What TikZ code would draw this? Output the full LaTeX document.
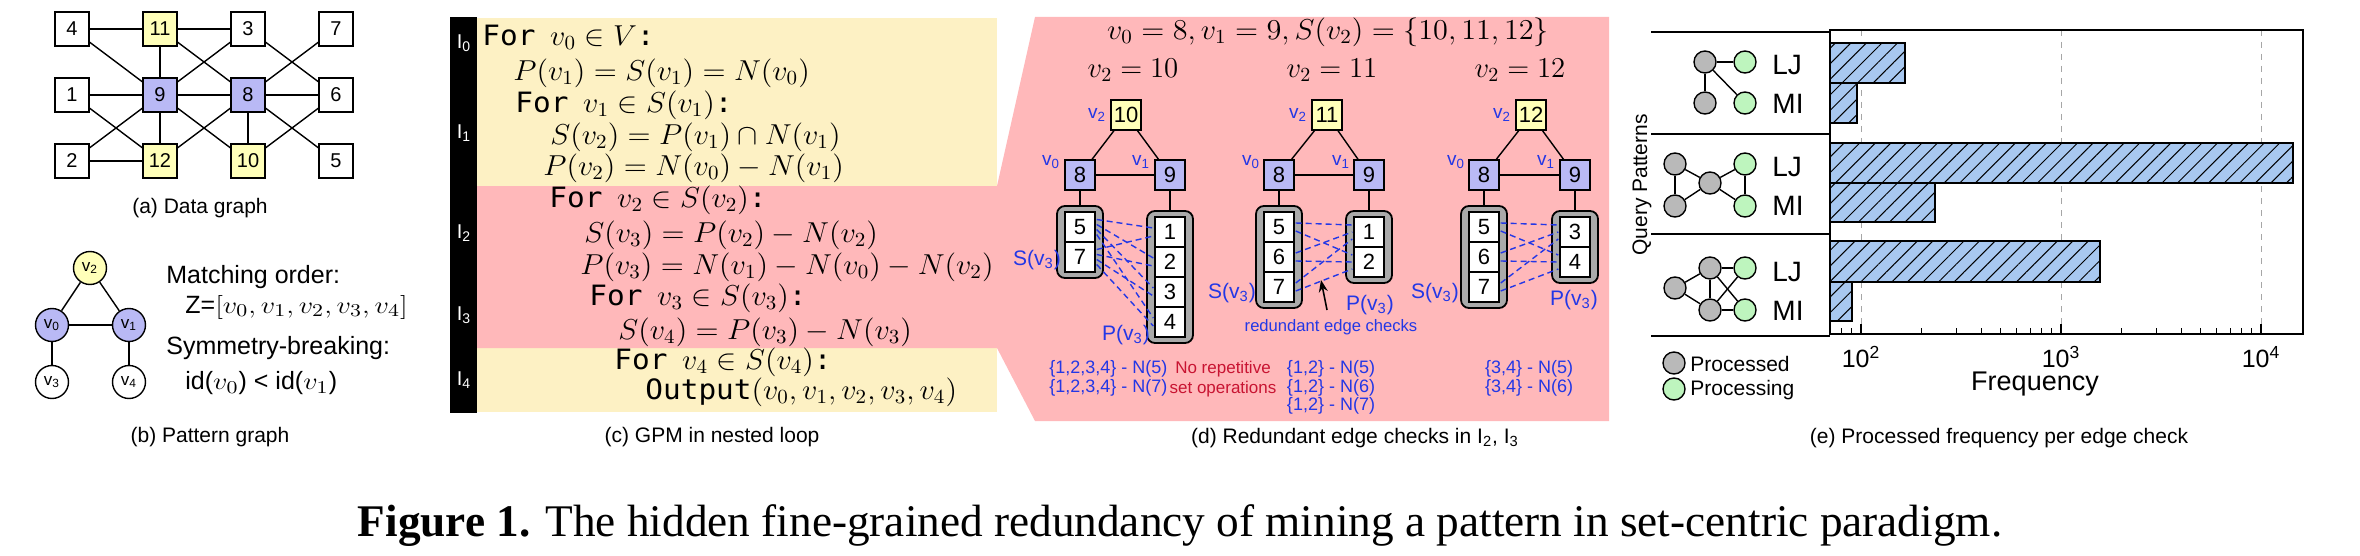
\documentclass[tikz,border=0pt]{standalone}
\usepackage{fontspec}
\setmainfont{Liberation Serif}
\setsansfont{Liberation Sans}
\setmonofont{DejaVu Sans Mono}
\usepackage{graphicx}
\usetikzlibrary{calc,arrows.meta,patterns.meta}
\definecolor{ylw}{RGB}{255,255,185}
\definecolor{lav}{RGB}{185,185,245}
\definecolor{cream}{RGB}{253,241,196}
\definecolor{pinkbg}{RGB}{255,184,186}
\definecolor{bl}{RGB}{35,55,230}
\definecolor{crim}{RGB}{200,20,50}
\definecolor{barblue}{RGB}{168,200,240}
\definecolor{gr}{RGB}{185,185,185}
\definecolor{grn}{RGB}{190,245,190}
\definecolor{boxgray}{RGB}{170,170,170}
\newcommand{\hstr}[1]{\scalebox{1.05}[1]{#1}}
\newcommand{\mstr}[1]{\scalebox{1.18}[1]{#1}}
\begin{document}
\begin{tikzpicture}[x=0.5pt,y=-0.5pt,
 sq/.style={draw, line width=0.7pt, minimum size=17pt, inner sep=0pt, font=\sffamily\fontsize{10}{12}\selectfont},
 pc/.style={circle, draw, line width=0.7pt, minimum size=16.5pt, inner sep=0pt, font=\sffamily\fontsize{8.5}{10}\selectfont},
 ln/.style={line width=0.7pt},
 subcap/.style={font=\sffamily\fontsize{10.5}{12}\selectfont, inner sep=0pt},
 cline/.style={anchor=west, inner sep=0pt, font=\fontsize{14}{16}\selectfont},
 lbl/.style={font=\sffamily\fontsize{12.5}{15}\selectfont, inner sep=0pt, anchor=west},
 Ilab/.style={text=white, font=\sffamily\fontsize{10}{12}\selectfont, inner sep=0pt},
 dn/.style={draw, line width=0.7pt, minimum size=15pt, inner sep=0pt, font=\sffamily\fontsize{11}{12}\selectfont},
 cl/.style={draw, fill=white, line width=0.7pt, minimum size=15pt, inner sep=0pt, font=\sffamily\fontsize{11}{12}\selectfont},
 gbox/.style={draw, fill=boxgray, line width=0.9pt, rounded corners=4pt, minimum width=23pt, inner sep=0pt},
 blab/.style={text=bl, font=\sffamily\fontsize{9.5}{11}\selectfont, inner sep=0pt},
 btxt/.style={text=bl, font=\sffamily\fontsize{9}{10.5}\selectfont, inner sep=0pt},
 dl/.style={draw=bl, dash pattern=on 3pt off 2pt, line width=0.7pt},
 pn/.style={circle, draw, line width=0.7pt, minimum size=11pt, inner sep=0pt},
 barst/.style={fill=barblue, draw=black, line width=0.8pt},
 hatch/.style={pattern={Lines[angle=45,distance=5.5pt,line width=0.5pt]}, pattern color=black},
 etxt/.style={font=\sffamily\fontsize{14}{16}\selectfont, inner sep=0pt, anchor=west},
 mhead/.style={font=\fontsize{14}{16}\selectfont, inner sep=0pt},
]
\useasboundingbox[fill=white] (0,0) rectangle (2360,556);

%% (a) data graph
\node[sq] (n4) at (72,29) {4};
\node[sq,fill=ylw] (n11) at (160,29) {11};
\node[sq] (n3) at (248,29) {3};
\node[sq] (n7) at (336,29) {7};
\node[sq] (n1) at (72,95) {1};
\node[sq,fill=lav] (n9) at (160,95) {9};
\node[sq,fill=lav] (n8) at (248,95) {8};
\node[sq] (n6) at (336,95) {6};
\node[sq] (n2) at (72,161) {2};
\node[sq,fill=ylw] (n12) at (160,161) {12};
\node[sq,fill=ylw] (n10) at (248,161) {10};
\node[sq] (n5) at (336,161) {5};
\foreach \a/\b in {n4/n11,n11/n3,n4/n9,n11/n9,n11/n8,n3/n9,n3/n6,n7/n8,n1/n9,n9/n8,n8/n6,n1/n12,n2/n9,n2/n12,n9/n12,n9/n10,n8/n12,n8/n10,n8/n5,n10/n6}
  \draw[ln] (\a) -- (\b);
\node[subcap] (capa) at (200,208) {(a) Data graph};

%% (b) pattern graph
\node[pc,fill=ylw] (v2) at (90,268) {v\textsubscript{2}};
\node[pc,fill=lav] (v0) at (52,325) {v\textsubscript{0}};
\node[pc,fill=lav] (v1) at (129,325) {v\textsubscript{1}};
\node[pc,fill=white] (v3) at (52,382) {v\textsubscript{3}};
\node[pc,fill=white] (v4) at (129,382) {v\textsubscript{4}};
\foreach \a/\b in {v2/v0,v2/v1,v0/v1,v0/v3,v1/v4} \draw[ln] (\a) -- (\b);
\node[lbl] (mo) at (166,277) {Matching order:};
\node[lbl] (zz) at (185,307) {Z=\mstr{$[v_0,v_1,v_2,v_3,v_4]$}};
\node[lbl] (sb) at (166,348) {Symmetry-breaking:};
\node[lbl] (idl) at (185,383) {id(\mstr{$v_0$}) < id(\mstr{$v_1$})};
\node[subcap] (capb) at (210,437) {(b) Pattern graph};

%% (c) nested loop
\fill[black] (450,17) rectangle (477,413);
\fill[cream] (477,18) rectangle (997,412);
\fill[pinkbg] (477,186) -- (997,186) -- (1035,17) -- (1609,17) -- (1609,421) -- (1035,421) -- (997,348) -- (477,348) -- cycle;
\node[Ilab] (i0) at (464,43) {I\textsubscript{0}};
\node[Ilab] (i1) at (464,133) {I\textsubscript{1}};
\node[Ilab] (i2) at (464,233) {I\textsubscript{2}};
\node[Ilab] (i3) at (464,315) {I\textsubscript{3}};
\node[Ilab] (i4) at (464,380) {I\textsubscript{4}};
\node[cline] (c1) at (482,37) {\hstr{\texttt{For}\hspace{7pt}$v_0\in V$\texttt{:}}};
\node[cline] (c2) at (513,73) {\hstr{$P(v_1)=S(v_1)=N(v_0)$}};
\node[cline] (c3) at (515,105) {\hstr{\texttt{For}\hspace{7pt}$v_1\in S(v_1)$\texttt{:}}};
\node[cline] (c4) at (550,137) {\hstr{$S(v_2)=P(v_1)\cap N(v_1)$}};
\node[cline] (c5) at (543,168) {\hstr{$P(v_2)=N(v_0)-N(v_1)$}};
\node[cline] (c6) at (549,200) {\hstr{\texttt{For}\hspace{7pt}$v_2\in S(v_2)$\texttt{:}}};
\node[cline] (c7) at (584,235) {\hstr{$S(v_3)=P(v_2)-N(v_2)$}};
\node[cline] (c8) at (580,267) {\hstr{$P(v_3)=N(v_1)-N(v_0)-N(v_2)$}};
\node[cline] (c9) at (589,298) {\hstr{\texttt{For}\hspace{7pt}$v_3\in S(v_3)$\texttt{:}}};
\node[cline] (c10) at (618,332) {\hstr{$S(v_4)=P(v_3)-N(v_3)$}};
\node[cline] (c11) at (614,362) {\hstr{\texttt{For}\hspace{7pt}$v_4\in S(v_4)$\texttt{:}}};
\node[cline] (c12) at (645,392) {\hstr{\texttt{Output}$(v_0,v_1,v_2,v_3,v_4)$}};
\node[subcap] (capc) at (712,437) {(c) GPM in nested loop};

%% (d) redundant edge checks
\node[mhead] (dt) at (1328,32) {\hstr{$v_0=8, v_1=9, S(v_2)=\{10,11,12\}$}};
\node[mhead] (h1) at (1133,70) {$v_2=10$};
\node[mhead] (h2) at (1332,70) {$v_2=11$};
\node[mhead] (h3) at (1520,70) {$v_2=12$};

% panel 1
\node[gbox, minimum height=36pt] (as) at (1080,242) {};
\node[gbox, minimum height=66pt] (ap) at (1170,277) {};
\node[dn,fill=ylw] (a10) at (1126,115) {10};
\node[dn,fill=lav] (a8) at (1080,175) {8};
\node[dn,fill=lav] (a9) at (1170,175) {9};
\draw[ln] (a10) -- (a8); \draw[ln] (a10) -- (a9); \draw[ln] (a8) -- (a9);
\draw[ln] (a8) -- (as); \draw[ln] (a9) -- (ap);
\node[cl] (a5) at (1080,227) {5};
\node[cl] (a7) at (1080,257) {7};
\node[cl] (a1) at (1170,232) {1};
\node[cl] (a2) at (1170,262) {2};
\node[cl] (a3) at (1170,292) {3};
\node[cl] (a4) at (1170,322) {4};
\foreach \s [count=\i] in {a5,a7}
  \foreach \p [count=\j] in {a1,a2,a3,a4}
    \draw[dl] ($(\s.east)+(1,{(\j-2.5)*5})$) -- ($(\p.west)+(-1,{(\i-1.5)*8})$);
\node[blab] (la2) at (1097,115) {v\textsubscript{2}};
\node[blab] (la0) at (1051,162) {v\textsubscript{0}};
\node[blab] (la1) at (1141,162) {v\textsubscript{1}};
\node[blab,font=\sffamily\fontsize{10.5}{12}\selectfont] (las) at (1037,260) {S(v\textsubscript{3})};
\node[blab,font=\sffamily\fontsize{10.5}{12}\selectfont] (lap) at (1126,335) {P(v\textsubscript{3})};
\node[btxt,anchor=west] (ta1) at (1049,369) {\{1,2,3,4\} - N(5)};
\node[btxt,anchor=west] (ta2) at (1049,388) {\{1,2,3,4\} - N(7)};
\node[btxt,text=crim,font=\sffamily\fontsize{8.5}{10}\selectfont] (nr1) at (1223,369) {No repetitive};
\node[btxt,text=crim,font=\sffamily\fontsize{8.5}{10}\selectfont] (nr2) at (1223,389) {set operations};

% panel 2
\node[gbox, minimum height=51pt] (bs) at (1279,257) {};
\node[gbox, minimum height=36pt] (bp) at (1369,247) {};
\node[dn,fill=ylw] (b11) at (1327,115) {11};
\node[dn,fill=lav] (b8) at (1279,175) {8};
\node[dn,fill=lav] (b9) at (1369,175) {9};
\draw[ln] (b11) -- (b8); \draw[ln] (b11) -- (b9); \draw[ln] (b8) -- (b9);
\draw[ln] (b8) -- (bs); \draw[ln] (b9) -- (bp);
\node[cl] (b5) at (1279,227) {5};
\node[cl] (b6) at (1279,257) {6};
\node[cl] (b7) at (1279,287) {7};
\node[cl] (b1) at (1369,232) {1};
\node[cl] (b2) at (1369,262) {2};
\foreach \s [count=\i] in {b5,b6,b7}
  \foreach \p [count=\j] in {b1,b2}
    \draw[dl] ($(\s.east)+(1,{(\j-1.5)*8})$) -- ($(\p.west)+(-1,{(\i-2)*7})$);
\node[blab] (lb2) at (1298,115) {v\textsubscript{2}};
\node[blab] (lb0) at (1251,162) {v\textsubscript{0}};
\node[blab] (lb1) at (1341,162) {v\textsubscript{1}};
\node[blab,font=\sffamily\fontsize{10.5}{12}\selectfont] (lbs) at (1232,293) {S(v\textsubscript{3})};
\node[blab,font=\sffamily\fontsize{10.5}{12}\selectfont] (lbp) at (1370,305) {P(v\textsubscript{3})};
\coordinate (arrs) at (1327,310);
\coordinate (arrt) at (1321,280);
\draw[line width=0.8pt,-{Stealth[length=6pt,width=4.5pt]}] (arrs) -- (arrt);
\node[btxt,font=\sffamily\fontsize{8.3}{10}\selectfont] (red) at (1331,327) {redundant edge checks};
\node[btxt] (tb1) at (1331,369) {\{1,2\} - N(5)};
\node[btxt] (tb2) at (1331,388) {\{1,2\} - N(6)};
\node[btxt] (tb3) at (1331,406) {\{1,2\} - N(7)};

% panel 3
\node[gbox, minimum height=51pt] (cs) at (1484,257) {};
\node[gbox, minimum height=36pt] (cp) at (1575,247) {};
\node[dn,fill=ylw] (c12n) at (1531,115) {12};
\node[dn,fill=lav] (c8n) at (1484,175) {8};
\node[dn,fill=lav] (c9n) at (1575,175) {9};
\draw[ln] (c12n) -- (c8n); \draw[ln] (c12n) -- (c9n); \draw[ln] (c8n) -- (c9n);
\draw[ln] (c8n) -- (cs); \draw[ln] (c9n) -- (cp);
\node[cl] (c5n) at (1484,227) {5};
\node[cl] (c6n) at (1484,257) {6};
\node[cl] (c7n) at (1484,287) {7};
\node[cl] (c3n) at (1575,232) {3};
\node[cl] (c4n) at (1575,262) {4};
\foreach \s [count=\i] in {c5n,c6n,c7n}
  \foreach \p [count=\j] in {c3n,c4n}
    \draw[dl] ($(\s.east)+(1,{(\j-1.5)*8})$) -- ($(\p.west)+(-1,{(\i-2)*7})$);
\node[blab] (lc2) at (1502,115) {v\textsubscript{2}};
\node[blab] (lc0) at (1456,162) {v\textsubscript{0}};
\node[blab] (lc1) at (1546,162) {v\textsubscript{1}};
\node[blab,font=\sffamily\fontsize{10.5}{12}\selectfont] (lcs) at (1435,293) {S(v\textsubscript{3})};
\node[blab,font=\sffamily\fontsize{10.5}{12}\selectfont] (lcp) at (1574,300) {P(v\textsubscript{3})};
\node[btxt] (tc1) at (1529,369) {\{3,4\} - N(5)};
\node[btxt] (tc2) at (1529,388) {\{3,4\} - N(6)};
\node[subcap] (capd) at (1355,438) {(d) Redundant edge checks in I\textsubscript{2}, I\textsubscript{3}};

%% (e) frequency plot
\foreach \x in {1861,2061,2261} \draw[gray!70, dashed, line width=0.5pt] (\x,30) -- (\x,334);
\foreach \ya/\yb/\xe in {43/83/1905, 83/123/1857, 143/183/2293, 183/222/1935, 241/282/2100, 282/321/1852} {
  \filldraw[barst] (1830,\ya) rectangle (\xe,\yb);
  \fill[hatch] (1830,\ya) rectangle (\xe,\yb);
  \draw[line width=0.8pt] (1830,\ya) rectangle (\xe,\yb);
}
\draw[line width=0.9pt] (1830,30) rectangle (2303,334);
\foreach \x in {1861,2061,2261} \draw[line width=0.7pt] (\x,334) -- (\x,324);
\foreach \x in {1841.6,1851.8} \draw[line width=0.5pt] (\x,334) -- (\x,328);
\foreach \b in {1861,2061} \foreach \o in {60.2,95.4,120.4,139.8,155.6,169,180.6,190.8}
  \draw[line width=0.5pt] (\b+\o,334) -- (\b+\o,328);
\foreach \y in {32,134,234,336} \draw[line width=0.9pt] (1651,\y) -- (1830,\y);
\node[font=\sffamily\fontsize{12.5}{14}\selectfont, inner sep=0pt] (t2) at (1861,357) {10\textsuperscript{2}};
\node[font=\sffamily\fontsize{12.5}{14}\selectfont, inner sep=0pt] (t3) at (2061,357) {10\textsuperscript{3}};
\node[font=\sffamily\fontsize{12.5}{14}\selectfont, inner sep=0pt] (t4) at (2261,357) {10\textsuperscript{4}};
\node[font=\sffamily\fontsize{13.5}{16}\selectfont, inner sep=0pt] (freq) at (2035,384) {Frequency};
\node[font=\sffamily\fontsize{10.5}{12}\selectfont, inner sep=0pt, rotate=90] (qp) at (1642,185) {Query Patterns};
% pattern 1
\node[pn,fill=gr] (g1a) at (1705,62) {};
\node[pn,fill=grn] (g1b) at (1745,62) {};
\node[pn,fill=gr] (g1c) at (1705,103) {};
\node[pn,fill=grn] (g1d) at (1745,103) {};
\foreach \a/\b in {g1a/g1b,g1a/g1c,g1a/g1d} \draw[ln] (\a) -- (\b);
% pattern 2
\node[pn,fill=gr] (g2a) at (1675,164) {};
\node[pn,fill=gr] (g2b) at (1675,206) {};
\node[pn,fill=gr] (g2c) at (1710,183) {};
\node[pn,fill=grn] (g2d) at (1745,164) {};
\node[pn,fill=grn] (g2e) at (1745,206) {};
\foreach \a/\b in {g2a/g2b,g2a/g2c,g2b/g2c,g2c/g2d,g2c/g2e,g2d/g2e} \draw[ln] (\a) -- (\b);
% pattern 3
\node[pn,fill=gr] (g3a) at (1675,288) {};
\node[pn,fill=gr] (g3b) at (1710,268) {};
\node[pn,fill=gr] (g3c) at (1710,310) {};
\node[pn,fill=grn] (g3d) at (1745,268) {};
\node[pn,fill=grn] (g3e) at (1745,310) {};
\foreach \a/\b in {g3a/g3b,g3a/g3c,g3b/g3c,g3b/g3d,g3c/g3e,g3b/g3e,g3c/g3d} \draw[ln] (\a) -- (\b);
\node[etxt] (lj1) at (1772,65) {LJ};
\node[etxt] (mi1) at (1772,104) {MI};
\node[etxt] (lj2) at (1772,167) {LJ};
\node[etxt] (mi2) at (1772,206) {MI};
\node[etxt] (lj3) at (1772,272) {LJ};
\node[etxt] (mi3) at (1772,311) {MI};
\node[pn,fill=gr] (lg1) at (1674,363) {};
\node[pn,fill=grn] (lg2) at (1674,389) {};
\node[font=\sffamily\fontsize{10.5}{12}\selectfont, inner sep=0pt, anchor=west] (lt1) at (1690,364) {Processed};
\node[font=\sffamily\fontsize{10.5}{12}\selectfont, inner sep=0pt, anchor=west] (lt2) at (1690,390) {Processing};
\node[subcap] (cape) at (1999,438) {(e) Processed frequency per edge check};

%% main caption
\node[inner sep=0pt, anchor=base] (fig) at (1180,536) {\resizebox{822pt}{!}{\fontsize{14}{16}\selectfont\textbf{Figure 1.} The hidden fine-grained redundancy of mining a pattern in set-centric paradigm.}};
\end{tikzpicture}
\end{document}
